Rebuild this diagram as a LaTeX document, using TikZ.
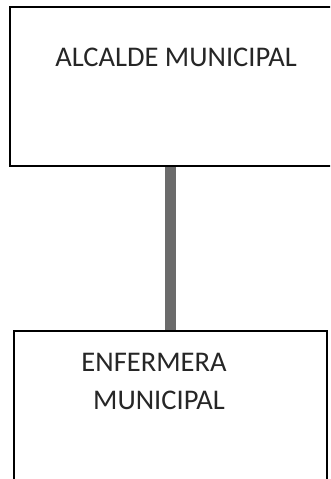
\documentclass[tikz,border=0pt]{standalone}
\usepackage{fontspec}
\setmainfont{Carlito}
\usetikzlibrary{positioning}

\begin{document}
\begin{tikzpicture}[x=1pt,y=-1pt,
        caja/.style={draw=black, line width=1.6pt, rectangle, inner sep=0pt},
        texto/.style={font=\fontsize{28.5}{39}\selectfont, text=black!85, inner sep=0pt, anchor=base},
        conector/.style={draw=black!58, line width=11pt}]
        \useasboundingbox (0,0) rectangle (330,479);
        \clip (0,0) rectangle (330,479);
        \node [caja, minimum width=324pt, minimum height=159pt] (alcalde) at (172,86.5) {};
        \node [caja, minimum width=313pt, minimum height=159pt] (enfermera) at (170.5,410.5) {};
        \node [texto] (t1) at (176,66) {ALCALDE MUNICIPAL};
        \node [texto] (t2) at (154,371) {ENFERMERA};
        \node [texto] (t3) at (159,409) {MUNICIPAL};
        \draw [conector] (alcalde.south -| enfermera.north) -- (enfermera.north);
\end{tikzpicture}
\end{document}
